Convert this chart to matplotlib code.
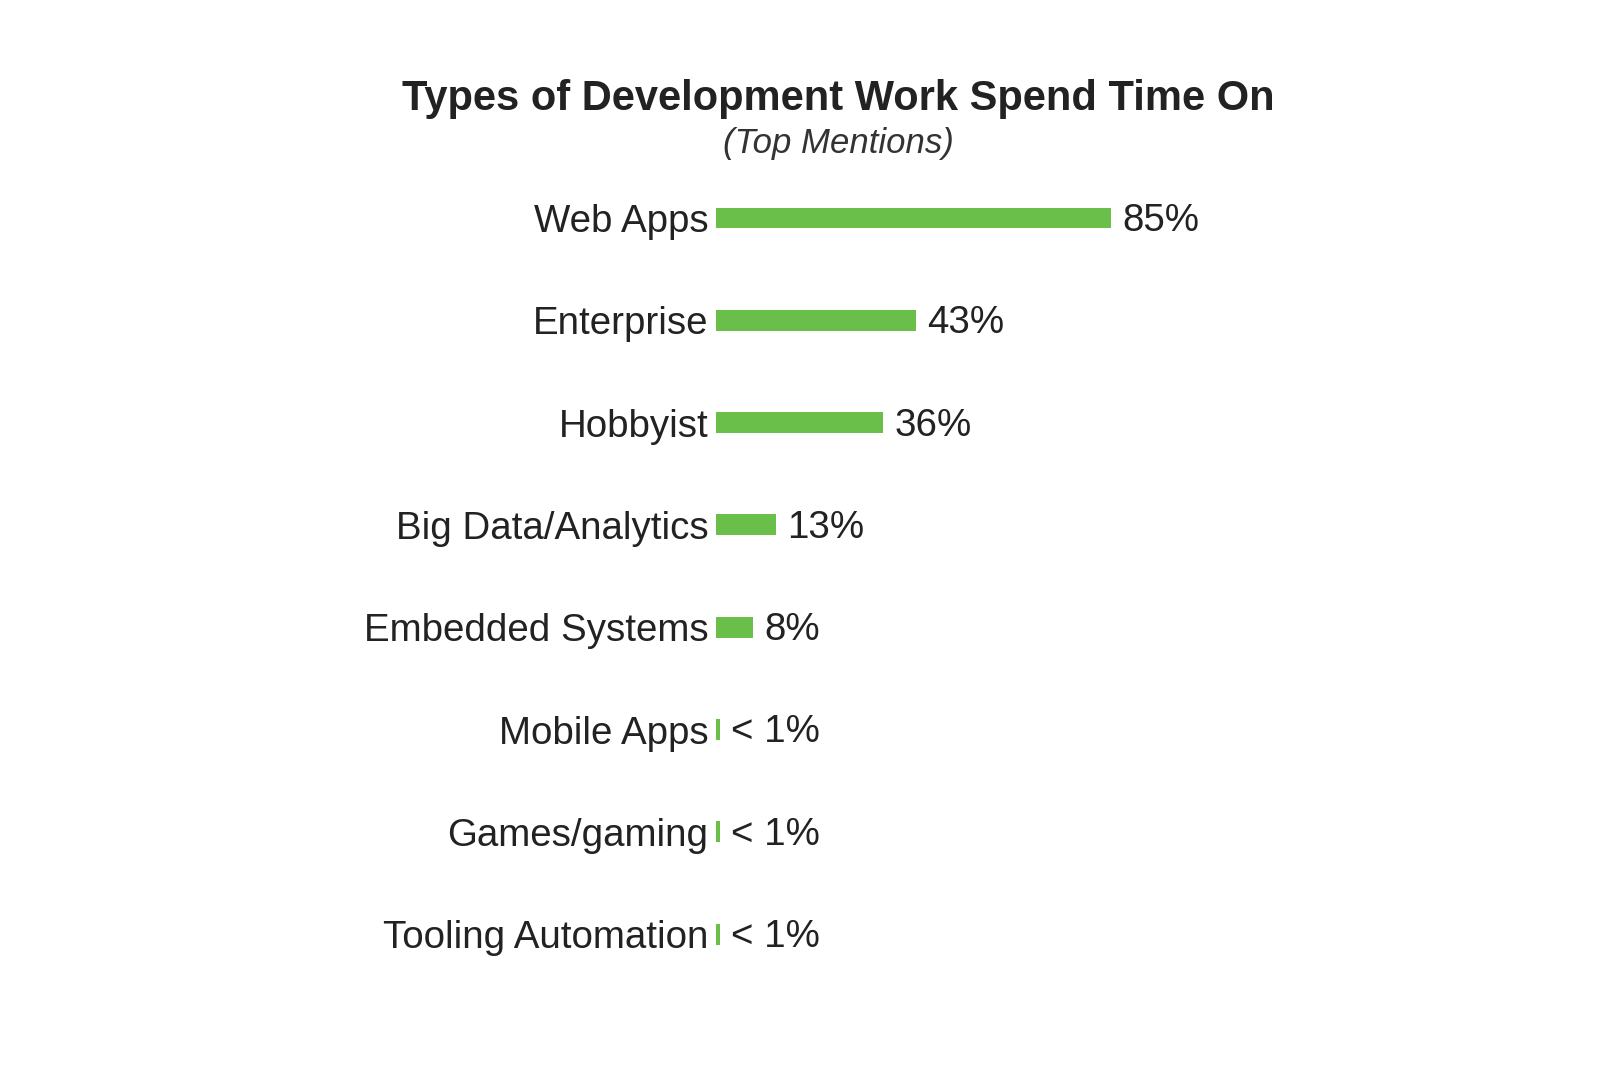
import matplotlib
matplotlib.use("Agg")
import matplotlib.pyplot as plt

categories = ["Web Apps", "Enterprise", "Hobbyist", "Big Data/Analytics",
              "Embedded Systems", "Mobile Apps", "Games/gaming", "Tooling Automation"]
values = [85, 43, 36, 13, 8, 0.9, 0.9, 0.9]
value_labels = ["85%", "43%", "36%", "13%", "8%", "< 1%", "< 1%", "< 1%"]

title = "Types of Development Work Spend Time On"
subtitle = "(Top Mentions)"

plt.rcParams['font.family'] = ['Liberation Sans', 'DejaVu Sans']

W, H = 1600, 1069
fig = plt.figure(figsize=(W / 100, H / 100), dpi=100)
fig.patch.set_facecolor("white")

px_per_pct = 4.65
row_px = 102.3
left_px = 716
top_px = 218 - row_px / 2
n = len(categories)
ax = fig.add_axes([left_px / W, 1 - (top_px + n * row_px) / H,
                   100 * px_per_pct / W, n * row_px / H])

ys = list(range(n))
ax.barh(ys, values, height=0.205, color="#6abf4b", edgecolor="none")
ax.set_xlim(0, 100)
ax.set_ylim(n - 0.5, -0.5)
ax.set_yticks(ys)
ax.set_yticklabels(categories, fontsize=27.7, color="#222222")
ax.tick_params(axis="y", length=0, pad=5.5)
ax.set_xticks([])
for s in ax.spines.values():
    s.set_visible(False)

for y, v, lab in zip(ys, values, value_labels):
    ax.annotate(lab, xy=(v, y), xytext=(11, -3), textcoords="offset pixels",
                ha="left", va="center", fontsize=27.7, color="#222222")

fig.text(838 / W, 1 - 99 / H, title, ha="center", va="center",
         fontsize=30, fontweight="bold", color="#222222")
fig.text(838 / W, 1 - 143 / H, subtitle, ha="center", va="center",
         fontsize=25, fontstyle="italic", color="#333333")

fig.savefig("out.png", dpi=100, facecolor="white")
